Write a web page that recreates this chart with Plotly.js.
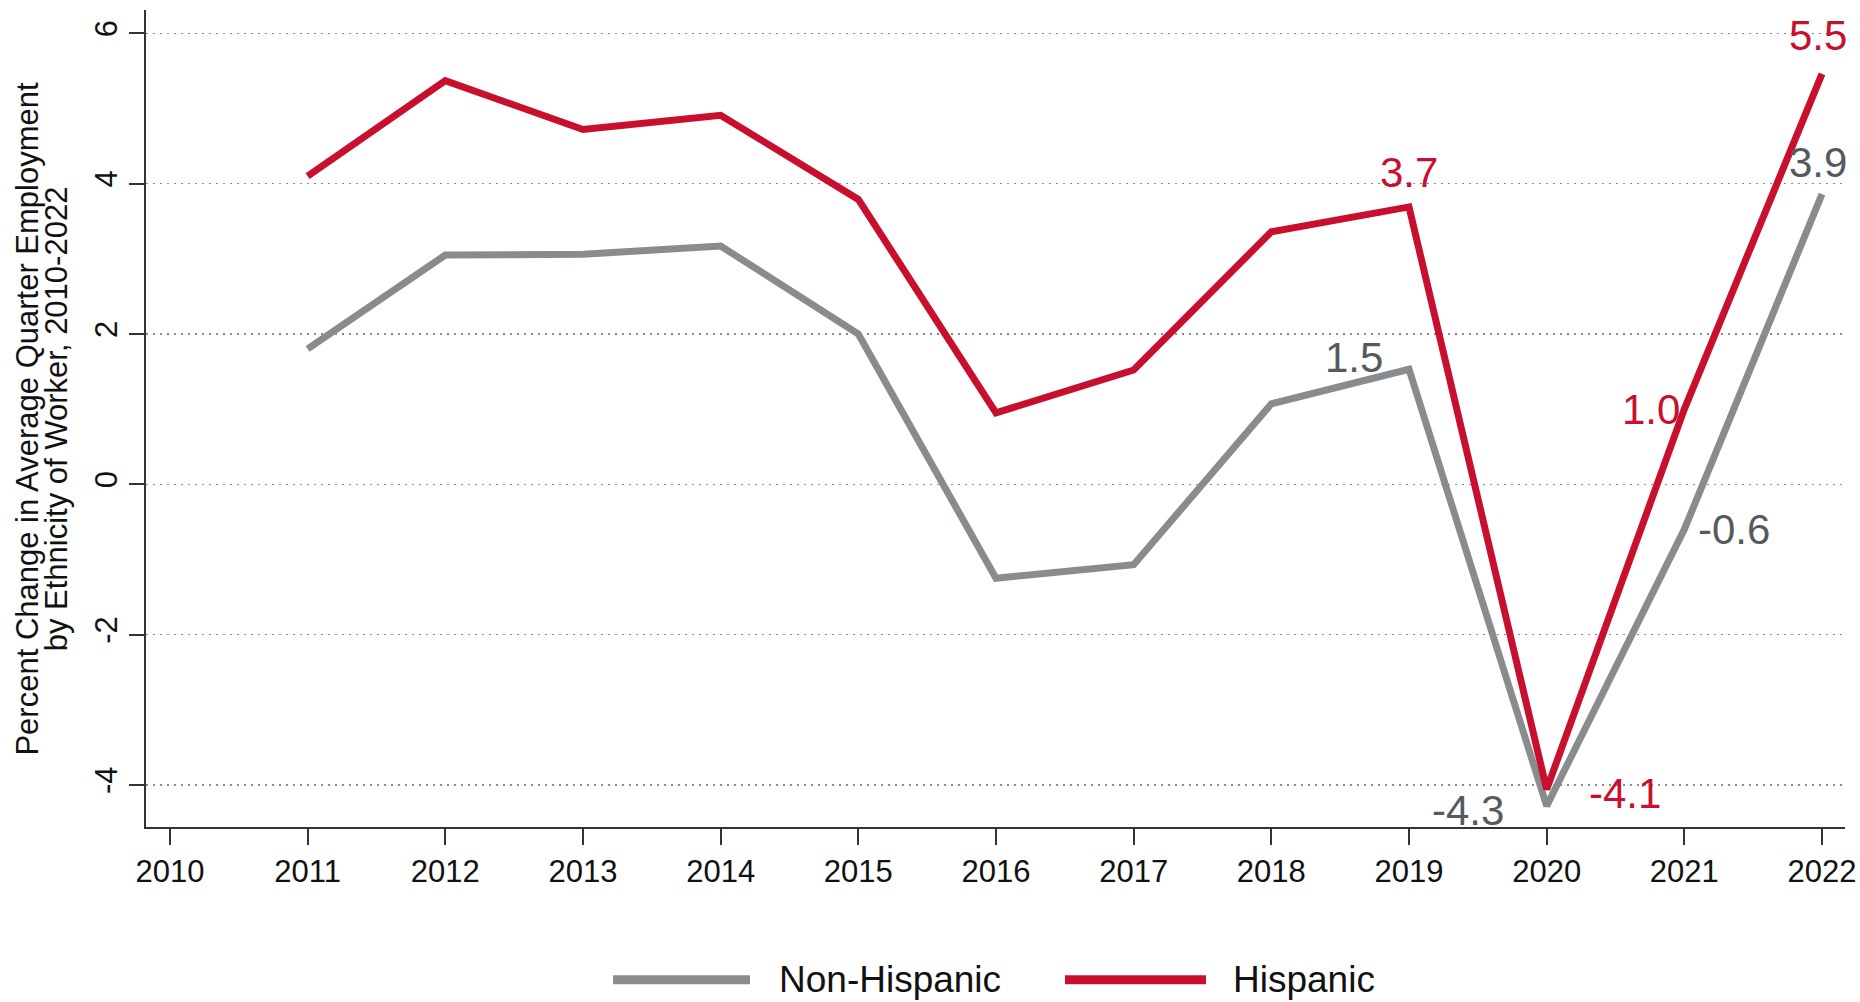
<!DOCTYPE html>
<html>
<head>
<meta charset="utf-8">
<script src="https://cdn.plot.ly/plotly-3.0.1.min.js"></script>
<style>
html, body { margin: 0; padding: 0; background: #fff; }
#chart { width: 1860px; height: 1002px; }
</style>
</head>
<body>
<div id="chart"></div>
<script>
// ---- Data ----
var years = [2011, 2012, 2013, 2014, 2015, 2016, 2017, 2018, 2019, 2020, 2021, 2022];
var nonHispanic = [1.80, 3.05, 3.06, 3.17, 2.00, -1.25, -1.07, 1.07, 1.53, -4.28, -0.60, 3.86];
var hispanic = [4.10, 5.37, 4.72, 4.91, 3.79, 0.95, 1.52, 3.36, 3.69, -4.06, 1.00, 5.46];
var seriesNames = ["Non-Hispanic", "Hispanic"];
var xTickVals = [2010, 2011, 2012, 2013, 2014, 2015, 2016, 2017, 2018, 2019, 2020, 2021, 2022];
var xTickText = ["2010", "2011", "2012", "2013", "2014", "2015", "2016", "2017", "2018", "2019", "2020", "2021", "2022"];
var yTickVals = [-4, -2, 0, 2, 4, 6];
var yTickText = ["-4", "-2", "0", "2", "4", "6"];
var labeledYears = [2019, 2020, 2021, 2022];
var yTitleLines = ["Percent Change in Average Quarter Employment", "by Ethnicity of Worker, 2010-2022"];

// ---- Styles ----
var GRAY = "#898C8F";
var GRAY_TEXT = "#555A60";
var RED = "#C8102E";
var FONT = "Liberation Sans, Arial, Helvetica, sans-serif";
// label offsets (px) per labeled year: [xshift, yshift]
var nonHispOffsets = {2019: [-55, 12], 2020: [-79, -5], 2021: [50, 0], 2022: [-4, 32]};
var hispOffsets = {2019: [0, 34], 2020: [78, -4], 2021: [-33, 0], 2022: [-4, 38]};

var traces = [
  {x: years, y: nonHispanic, name: seriesNames[0], type: "scatter", mode: "lines",
   line: {color: GRAY, width: 7}, hoverinfo: "x+y"},
  {x: years, y: hispanic, name: seriesNames[1], type: "scatter", mode: "lines",
   line: {color: RED, width: 7}, hoverinfo: "x+y"}
];

var annotations = [];
labeledYears.forEach(function (yr) {
  var i = years.indexOf(yr);
  var o1 = nonHispOffsets[yr];
  annotations.push({x: yr, y: nonHispanic[i], xref: "x", yref: "y", text: nonHispanic[i].toFixed(1),
    showarrow: false, xanchor: "center", yanchor: "middle", xshift: o1[0], yshift: o1[1],
    font: {family: FONT, size: 42, color: GRAY_TEXT}});
  var o2 = hispOffsets[yr];
  annotations.push({x: yr, y: hispanic[i], xref: "x", yref: "y", text: hispanic[i].toFixed(1),
    showarrow: false, xanchor: "center", yanchor: "middle", xshift: o2[0], yshift: o2[1],
    font: {family: FONT, size: 42, color: RED}});
});
// y-axis title (two tightly spaced lines)
annotations.push({xref: "paper", yref: "paper", x: -0.0700, y: 0.5, text: yTitleLines[0], textangle: -90,
  showarrow: false, xanchor: "center", yanchor: "middle", font: {family: FONT, size: 31, color: "#111"}});
annotations.push({xref: "paper", yref: "paper", x: -0.0525, y: 0.5, text: yTitleLines[1], textangle: -90,
  showarrow: false, xanchor: "center", yanchor: "middle", font: {family: FONT, size: 31, color: "#111"}});
// legend labels
annotations.push({xref: "paper", yref: "paper", x: 0.3714, y: -0.187, text: seriesNames[0],
  showarrow: false, xanchor: "left", yanchor: "middle", font: {family: FONT, size: 37, color: "#111"}});
annotations.push({xref: "paper", yref: "paper", x: 0.6386, y: -0.187, text: seriesNames[1],
  showarrow: false, xanchor: "left", yanchor: "middle", font: {family: FONT, size: 37, color: "#111"}});

var shapes = [
  {type: "line", xref: "paper", yref: "paper", x0: 0.2749, x1: 0.3555, y0: -0.187, y1: -0.187,
   line: {color: GRAY, width: 9}},
  {type: "line", xref: "paper", yref: "paper", x0: 0.5409, x1: 0.6239, y0: -0.187, y1: -0.187,
   line: {color: RED, width: 9}}
];

var layout = {
  width: 1860, height: 1002,
  margin: {l: 146, r: 15, t: 10, b: 175, pad: 0},
  paper_bgcolor: "#ffffff", plot_bgcolor: "#ffffff",
  showlegend: false,
  font: {family: FONT, color: "#111"},
  xaxis: {
    range: [2009.826, 2022.167], tickvals: xTickVals, ticktext: xTickText,
    ticks: "outside", ticklen: 16, tickwidth: 2, tickcolor: "#333",
    showline: true, linecolor: "#333", linewidth: 2,
    showgrid: false, zeroline: false,
    tickfont: {family: FONT, size: 31, color: "#111"}
  },
  yaxis: {
    range: [-4.56, 6.31], tickvals: yTickVals, ticktext: yTickText, tickangle: -90,
    ticks: "outside", ticklen: 15, tickwidth: 2, tickcolor: "#333",
    showline: true, linecolor: "#333", linewidth: 2,
    showgrid: true, gridcolor: "#8a8a8a", gridwidth: 1.5, griddash: "2px,5px",
    zeroline: false,
    tickfont: {family: FONT, size: 31, color: "#111"}
  },
  annotations: annotations,
  shapes: shapes
};

Plotly.newPlot("chart", traces, layout, {displayModeBar: false, staticPlot: true});
</script>
</body>
</html>
